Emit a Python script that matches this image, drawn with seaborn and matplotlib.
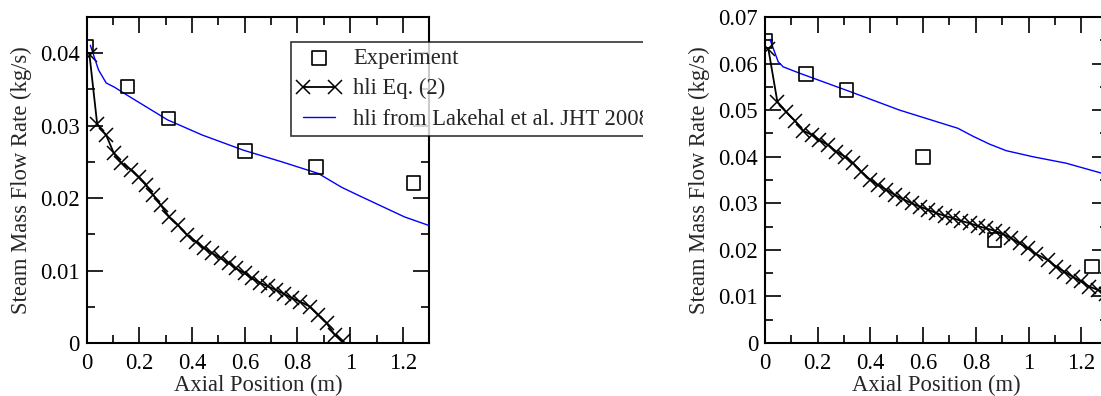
import matplotlib
matplotlib.use('Agg')
import pandas as pd
import matplotlib.pyplot as plt
from matplotlib.patches import Rectangle
from matplotlib.ticker import MultipleLocator
import seaborn as sns

# experiment points (same axial positions in both runs)
exp_x = [0.0, 0.155, 0.31, 0.6, 0.87, 1.24]
exp_left = [0.0409, 0.0354, 0.0310, 0.0265, 0.0243, 0.0221]
exp_right = [0.0649, 0.0578, 0.0543, 0.0399, 0.0221, 0.0164]

# hli Eq. (2), left run
eq2_left_x = [0.011, 0.040, 0.074, 0.103, 0.131, 0.169, 0.198, 0.225, 0.253, 0.282,
              0.313, 0.345, 0.382, 0.414, 0.445, 0.477, 0.508, 0.540, 0.567, 0.600,
              0.628, 0.659, 0.688, 0.720, 0.747, 0.778, 0.810, 0.848, 0.879, 0.911,
              0.942, 0.974]
eq2_left_y = [0.0397, 0.0302, 0.0287, 0.0262, 0.0249, 0.0239, 0.0229, 0.0218, 0.0204, 0.0190,
              0.0174, 0.0163, 0.0149, 0.0140, 0.0131, 0.0124, 0.0117, 0.0110, 0.0103, 0.0096,
              0.0089, 0.0083, 0.0078, 0.0073, 0.0068, 0.0062, 0.0057, 0.0050, 0.0039, 0.0027,
              0.0011, 0.0002]

# hli from Lakehal et al., left run
lak_left_x = [0.014, 0.045, 0.074, 0.106, 0.154, 0.307, 0.439, 0.596, 0.741, 0.879,
              0.967, 1.03, 1.206, 1.30]
lak_left_y = [0.0411, 0.0377, 0.0359, 0.0353, 0.0342, 0.0308, 0.0287, 0.0266, 0.0250, 0.0234,
              0.0215, 0.0204, 0.0174, 0.0162]

# hli Eq. (2), right run
eq2_right_x = [0.013, 0.047, 0.080, 0.114, 0.145, 0.177, 0.206, 0.240, 0.271, 0.303,
               0.334, 0.366, 0.398, 0.429, 0.461, 0.492, 0.524, 0.556, 0.587, 0.619,
               0.650, 0.682, 0.713, 0.745, 0.777, 0.808, 0.840, 0.871, 0.903, 0.934,
               0.966, 0.998, 1.029, 1.073, 1.105, 1.136, 1.168, 1.199, 1.231, 1.263,
               1.295]
eq2_right_y = [0.0631, 0.0518, 0.0497, 0.0477, 0.0456, 0.0447, 0.0436, 0.0425, 0.0411, 0.0400,
               0.0386, 0.0368, 0.0351, 0.0339, 0.0329, 0.0318, 0.0309, 0.0300, 0.0293, 0.0286,
               0.0279, 0.0273, 0.0268, 0.0262, 0.0257, 0.0251, 0.0246, 0.0241, 0.0234, 0.0225,
               0.0214, 0.0203, 0.0191, 0.0178, 0.0164, 0.0153, 0.0142, 0.0132, 0.0121, 0.0114,
               0.0106]

# hli from Lakehal et al., right run
lak_right_x = [0.019, 0.050, 0.069, 0.133, 0.322, 0.511, 0.732, 0.789, 0.852, 0.915,
               1.016, 1.143, 1.30]
lak_right_y = [0.0652, 0.0604, 0.0593, 0.0579, 0.0540, 0.0500, 0.0461, 0.0444, 0.0427, 0.0413,
               0.0400, 0.0386, 0.0361]

sns.set_theme(style='ticks')
plt.rcParams['font.family'] = ['Liberation Serif', 'DejaVu Serif']
plt.rcParams['font.size'] = 16.3

fig = plt.figure(figsize=(11.01, 3.96), dpi=100)
ax1 = fig.add_axes([0.0787, 0.134, 0.3112, 0.823])
ax2 = fig.add_axes([0.6948, 0.134, 0.3112, 0.823])
ax2.set_zorder(3)


def draw_panel(ax, exp_y, eq_x, eq_y, lak_x, lak_y, ymax):
    sns.scatterplot(x=exp_x, y=exp_y, ax=ax, marker='s', s=95, facecolor='none',
                    edgecolor='black', linewidth=1.2, label='Experiment', zorder=4)
    sns.lineplot(x=eq_x, y=eq_y, ax=ax, sort=False, estimator=None, color='black',
                 linewidth=1.3, marker='x', markersize=10, markeredgewidth=1.1,
                 markeredgecolor='black', label='hli Eq. (2)', zorder=3)
    sns.lineplot(x=lak_x, y=lak_y, ax=ax, sort=False, estimator=None, color='#0000ff',
                 linewidth=1.0, label='hli from Lakehal et al. JHT 2008', zorder=3)
    ax.set_xlim(0, 1.3)
    ax.set_ylim(0, ymax)
    ax.xaxis.set_major_locator(MultipleLocator(0.2))
    ax.xaxis.set_minor_locator(MultipleLocator(0.1))
    ax.yaxis.set_major_locator(MultipleLocator(0.01))
    ax.yaxis.set_minor_locator(MultipleLocator(0.005))
    ax.xaxis.set_major_formatter(lambda v, p: f'{v:g}')
    ax.yaxis.set_major_formatter(lambda v, p: f'{v:g}')
    ax.tick_params(which='both', direction='in', top=True, right=True, width=1.2,
                   labelsize=16.3, colors='black')
    ax.tick_params(axis='y', pad=5)
    ax.tick_params(axis='x', pad=7.3)
    ax.tick_params(which='major', length=11.5)
    ax.tick_params(which='minor', length=5.8)
    for s in ax.spines.values():
        s.set_linewidth(1.5)
        s.set_color('black')
    ax.set_xlabel('Axial Position (m)', fontsize=16.3, labelpad=0.5)
    ax.set_ylabel('Steam Mass Flow Rate (kg/s)', fontsize=16.3, labelpad=6)


draw_panel(ax1, exp_left, eq2_left_x, eq2_left_y, lak_left_x, lak_left_y, 0.045)
draw_panel(ax2, exp_right, eq2_right_x, eq2_right_y, lak_right_x, lak_right_y, 0.07)
ax2.get_legend().remove()

leg = ax1.legend(loc='upper left', bbox_to_anchor=(0.596, 0.923), fontsize=16.3,
                 frameon=True, fancybox=False, numpoints=2, scatterpoints=1,
                 handlelength=2.0, handletextpad=0.5, labelspacing=0.42,
                 borderpad=0.25, borderaxespad=0)
leg.get_frame().set_edgecolor('black')
leg.get_frame().set_linewidth(1.2)
leg.set_zorder(10)

# right panel sits on top of the overflowing legend
fig.patches.append(Rectangle((0.584, 0), 0.5, 1, transform=fig.transFigure,
                             facecolor='white', edgecolor='none', zorder=2))

fig.savefig('out.png', dpi=100)
